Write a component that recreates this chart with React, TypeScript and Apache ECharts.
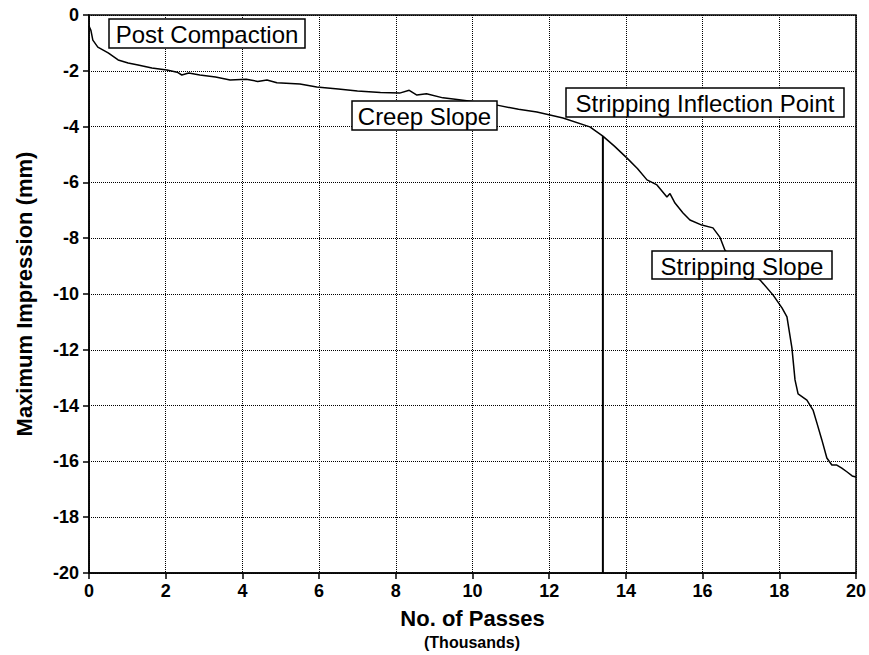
import React, { useEffect, useRef } from "react";
import * as echarts from "echarts";

// No. of passes (thousands)
const passes = [
  0, 0.05, 0.1, 0.23, 0.5, 0.76, 1.02, 1.28, 1.64, 2.03, 2.3, 2.42, 2.6, 2.89, 3.3, 3.68, 4.1, 4.4,
  4.64, 4.9, 5.5, 5.94, 6.5, 7.0, 7.6, 8.1, 8.35, 8.55, 8.8, 9.23, 9.6, 10.0, 10.64, 11.2, 11.68,
  12.36, 13.06, 13.4, 13.7, 14.03, 14.3, 14.55, 14.81, 15.07, 15.15, 15.28, 15.49, 15.67, 15.98,
  16.27, 16.45, 16.58, 16.9, 17.2, 17.5, 17.84, 18.07, 18.2, 18.33, 18.41, 18.49, 18.72, 18.88,
  18.98, 19.11, 19.24, 19.37, 19.5, 19.63, 19.77, 19.9, 20,
];
// Maximum impression (mm)
const impression = [
  -0.4, -0.55, -0.9, -1.15, -1.36, -1.61, -1.72, -1.79, -1.9, -1.97, -2.05, -2.15, -2.08, -2.15,
  -2.22, -2.33, -2.3, -2.38, -2.33, -2.43, -2.47, -2.58, -2.65, -2.72, -2.78, -2.8, -2.7, -2.87,
  -2.82, -2.97, -3.03, -3.1, -3.23, -3.38, -3.48, -3.69, -4.01, -4.34, -4.7, -5.13, -5.5, -5.91,
  -6.09, -6.52, -6.4, -6.74, -7.1, -7.35, -7.53, -7.63, -7.96, -8.42, -8.9, -9.2, -9.5, -10.04,
  -10.5, -10.82, -11.94, -13.08, -13.58, -13.8, -14.16, -14.62, -15.23, -15.88, -16.13, -16.13,
  -16.24, -16.38, -16.52, -16.56,
];
const inflectionX = 13.4;
const inflectionY = -4.34;
const xTicks = { min: 0, max: 20, interval: 2 };
const yTicks = { min: -20, max: 0, interval: 2 };

const annotations = [
  { text: "Post Compaction", left: 109, top: 19, width: 196, height: 29 },
  { text: "Creep Slope", left: 352, top: 101, width: 145, height: 29 },
  { text: "Stripping Inflection Point", left: 566, top: 88, width: 278, height: 29 },
  { text: "Stripping Slope", left: 652, top: 251, width: 180, height: 28 },
];

const FONT = "'Liberation Sans', Arial, Helvetica, sans-serif";

export default function App() {
  const ref = useRef<HTMLDivElement>(null);
  useEffect(() => {
    if (!ref.current) return;
    const chart = echarts.init(ref.current, null, { renderer: "svg" });
    const graphics: any[] = [];
    annotations.forEach((a) => {
      graphics.push({
        type: "rect",
        x: a.left,
        y: a.top,
        z: 100,
        shape: { x: 0, y: 0, width: a.width, height: a.height },
        style: { fill: "#fff", stroke: "#000", lineWidth: 1.5 },
      });
      graphics.push({
        type: "text",
        x: a.left + a.width / 2,
        y: a.top + a.height / 2 + 1,
        z: 101,
        style: {
          text: a.text,
          fill: "#000",
          font: `normal 24px ${FONT}`,
          textAlign: "center",
          textVerticalAlign: "middle",
        },
      });
    });
    graphics.push({
      type: "text",
      x: 472,
      y: 642,
      z: 100,
      style: {
        text: "(Thousands)",
        fill: "#000",
        font: `bold 16px ${FONT}`,
        textAlign: "center",
        textVerticalAlign: "middle",
      },
    });

    chart.setOption({
      animation: false,
      backgroundColor: "#fff",
      grid: {
        left: 89,
        right: 13,
        top: 15,
        bottom: 82,
        show: true,
        borderColor: "#000",
        borderWidth: 1.5,
      },
      xAxis: {
        type: "value",
        min: xTicks.min,
        max: xTicks.max,
        interval: xTicks.interval,
        name: "No. of Passes",
        nameLocation: "middle",
        nameGap: 34,
        nameTextStyle: { color: "#000", fontFamily: FONT, fontWeight: "bold", fontSize: 22 },
        axisLine: { onZero: false, lineStyle: { color: "#000", width: 1.5 } },
        axisTick: { show: true, length: 6, lineStyle: { color: "#000", width: 1.5 } },
        axisLabel: { color: "#000", fontFamily: FONT, fontWeight: "bold", fontSize: 18, margin: 9 },
        splitLine: { show: true, lineStyle: { color: "#000", type: "dotted", width: 1 } },
      },
      yAxis: {
        type: "value",
        min: yTicks.min,
        max: yTicks.max,
        interval: yTicks.interval,
        name: "Maximum Impression (mm)",
        nameLocation: "middle",
        nameGap: 54,
        nameTextStyle: { color: "#000", fontFamily: FONT, fontWeight: "bold", fontSize: 22 },
        axisLine: { onZero: false, lineStyle: { color: "#000", width: 1.5 } },
        axisTick: { show: true, length: 6, lineStyle: { color: "#000", width: 1.5 } },
        axisLabel: { color: "#000", fontFamily: FONT, fontWeight: "bold", fontSize: 18, margin: 10 },
        splitLine: { show: true, lineStyle: { color: "#000", type: "dotted", width: 1 } },
      },
      series: [
        {
          type: "line",
          data: passes.map((x, i) => [x, impression[i]]),
          showSymbol: false,
          lineStyle: { color: "#000", width: 1.5 },
          z: 5,
        },
        {
          type: "line",
          data: [
            [inflectionX, inflectionY],
            [inflectionX, yTicks.min],
          ],
          showSymbol: false,
          lineStyle: { color: "#000", width: 2 },
          z: 5,
        },
      ],
      graphic: graphics,
    });
    return () => chart.dispose();
  }, []);
  return (
    <div
      ref={ref}
      style={{ position: "fixed", left: 0, top: 0, width: 869, height: 655, background: "#fff" }}
    />
  );
}
